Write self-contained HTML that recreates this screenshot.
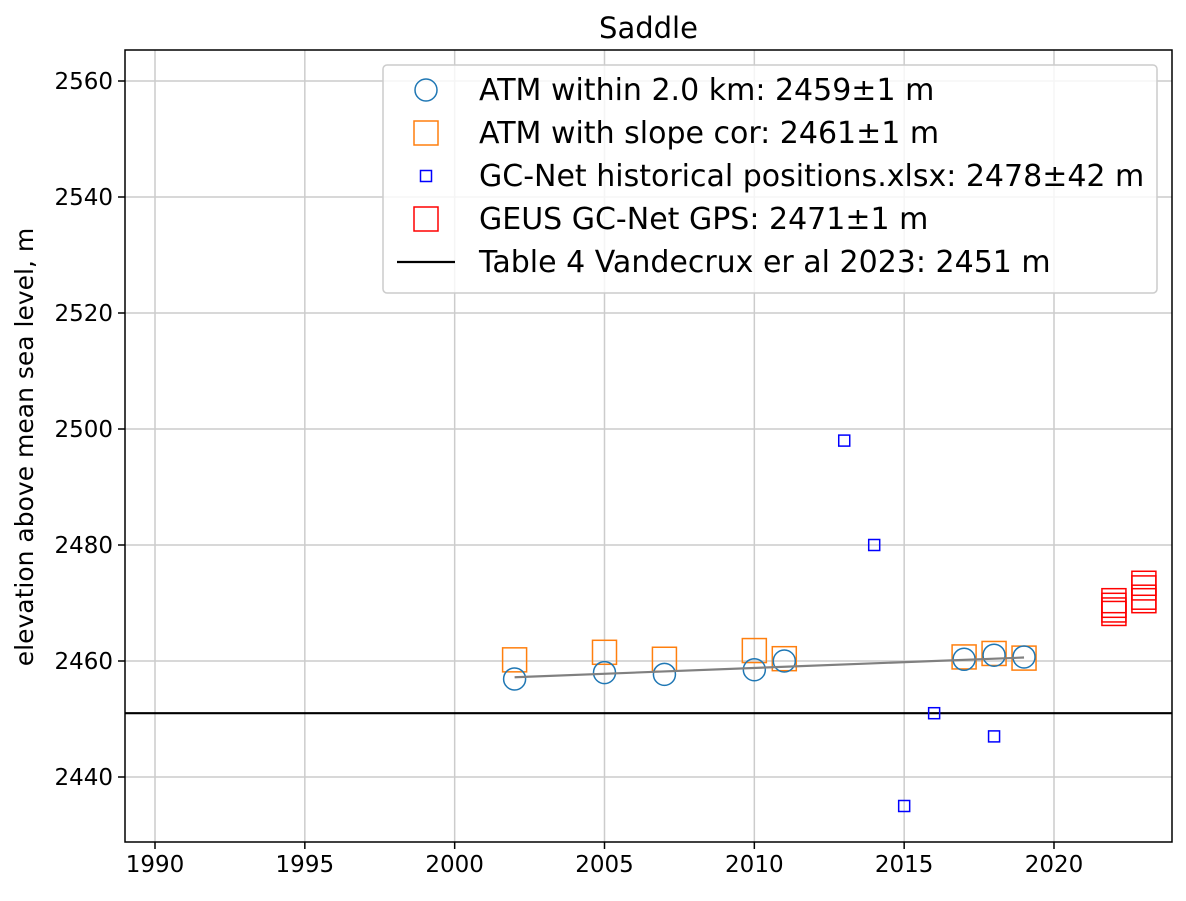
<!DOCTYPE html>
<html><head><meta charset="utf-8"><style>
body{margin:0;background:#fff;}
svg{font-family:"DejaVu Sans","Liberation Sans",sans-serif;}
</style></head><body>
<svg id="c" width="1186" height="896"></svg>
<script>
const xTicks=[1990,1995,2000,2005,2010,2015,2020];
const yTicks=[2440,2460,2480,2500,2520,2540,2560];
const atmYears=[2002,2005,2007,2010,2011,2017,2018,2019];
const atmVals=[2456.9,2458.0,2457.7,2458.5,2460.0,2460.3,2461.0,2460.7];
const corYears=[2002,2005,2007,2010,2011,2017,2018,2019];
const corVals=[2460.2,2461.5,2460.3,2461.8,2460.4,2460.7,2461.3,2460.5];
const gcYears=[2013,2014,2015,2016,2018];
const gcVals=[2498,2480,2435,2451,2447];
const geusYears=[2022,2022,2022,2022,2023,2023,2023,2023];
const geusVals=[2470.4,2469.6,2468.8,2468.2,2473.4,2472.6,2471.0,2470.4];
const trendYears=[2002,2019];
const trendVals=[2457.2,2460.6];
const refVal=2451;

const L=125,R=1172,T=50,B=842;
const X=v=>155+(v-1990)*(1054-155)/30;
const Y=v=>777-(v-2440)*5.8;
const svg=document.getElementById('c');
const NS='http://www.w3.org/2000/svg';
function el(t,a,p){const e=document.createElementNS(NS,t);for(const k in a)e.setAttribute(k,a[k]);(p||svg).appendChild(e);return e;}

const grid=el('g',{});


xTicks.forEach(t=>{
  el('line',{x1:X(t),x2:X(t),y1:T,y2:B,stroke:'#cccccc','stroke-width':1.5},grid);
  el('line',{x1:X(t),x2:X(t),y1:B,y2:B+7,stroke:'#000','stroke-width':1.5});
  const tx=el('text',{x:X(t),y:B+30,'text-anchor':'middle','font-size':23});
  tx.textContent=t;
  
  
});
yTicks.forEach(t=>{
  el('line',{x1:L,x2:R,y1:Y(t),y2:Y(t),stroke:'#cccccc','stroke-width':1.5},grid);
  el('line',{x1:L-7,x2:L,y1:Y(t),y2:Y(t),stroke:'#000','stroke-width':1.5});
  const tx=el('text',{x:L-12,y:Y(t)+8,'text-anchor':'end','font-size':23});
  tx.textContent=t;
  
  
});
const clip=el('clipPath',{id:'cp'});el('rect',{x:L,y:T,width:R-L,height:B-T},clip);
const g=el('g',{'clip-path':'url(#cp)'});
const rl=el('line',{x1:L,x2:R,y1:Y(refVal),y2:Y(refVal),stroke:'#000','stroke-width':2.2},g);


corYears.forEach((yr,i)=>{const r=el('rect',{x:X(yr)-12,y:Y(corVals[i])-12,width:24,height:24,fill:'none',stroke:'#ff7f0e','stroke-width':1.5},g);

});
atmYears.forEach((yr,i)=>{const c=el('circle',{cx:X(yr),cy:Y(atmVals[i]),r:11,fill:'none',stroke:'#1f77b4','stroke-width':1.5},g);

});
const tl=el('line',{x1:X(trendYears[0]),y1:Y(trendVals[0]),x2:X(trendYears[1]),y2:Y(trendVals[1]),stroke:'#808080','stroke-width':2.2},g);


gcYears.forEach((yr,i)=>{const r=el('rect',{x:X(yr)-5.5,y:Y(gcVals[i])-5.5,width:11,height:11,fill:'none',stroke:'#0000ff','stroke-width':1.5},g);

});
geusYears.forEach((yr,i)=>{const r=el('rect',{x:X(yr)-12,y:Y(geusVals[i])-12,width:24,height:24,fill:'none',stroke:'#ff0000','stroke-width':1.5},g);

});
const fr=el('rect',{x:L,y:T,width:R-L,height:B-T,fill:'none',stroke:'#000','stroke-width':1.5});


const ti=el('text',{x:(L+R)/2,y:38,'text-anchor':'middle','font-size':29});ti.textContent='Saddle';


const yl=el('text',{x:0,y:0,'text-anchor':'middle','font-size':25,transform:'translate(33,447) rotate(-90)'});yl.textContent='elevation above mean sea level, m';



const lg=el('g',{});


el('rect',{x:383,y:65,width:774,height:228,rx:4,fill:'rgba(255,255,255,0.8)',stroke:'#cccccc','stroke-width':1.5},lg);
const items=['ATM within 2.0 km: 2459±1 m','ATM with slope cor: 2461±1 m','GC-Net historical positions.xlsx: 2478±42 m','GEUS GC-Net GPS: 2471±1 m','Table 4 Vandecrux er al 2023: 2451 m'];
items.forEach((s,i)=>{const y=90+i*43;const mx=426;
 if(i==0)el('circle',{cx:mx,cy:y,r:11,fill:'none',stroke:'#1f77b4','stroke-width':1.5},lg);
 if(i==1)el('rect',{x:mx-12,y:y-12,width:24,height:24,fill:'none',stroke:'#ff7f0e','stroke-width':1.5},lg);
 if(i==2)el('rect',{x:mx-5.5,y:y-5.5,width:11,height:11,fill:'none',stroke:'#0000ff','stroke-width':1.5},lg);
 if(i==3)el('rect',{x:mx-12,y:y-12,width:24,height:24,fill:'none',stroke:'#ff0000','stroke-width':1.5},lg);
 if(i==4)el('line',{x1:397,x2:455,y1:y,y2:y,stroke:'#000','stroke-width':2.2},lg);
 const t=el('text',{x:479,y:y+10,'font-size':30},lg);t.textContent=s;
 
 
});
</script>
</body></html>
